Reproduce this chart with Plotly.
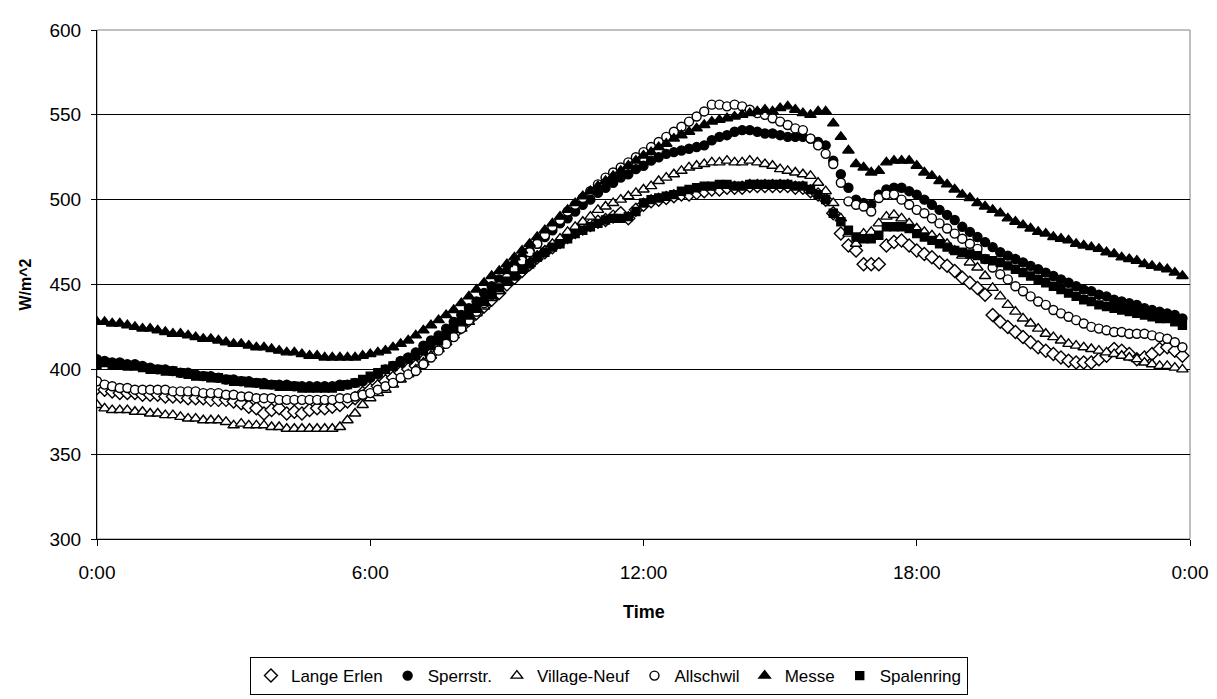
import plotly.graph_objects as go

# ---- data (10-minute values, 0:00 .. 23:50) ----
tick_vals = [0, 6, 12, 18, 24]
tick_text = ["0:00", "6:00", "12:00", "18:00", "0:00"]

lange_erlen = [
    389, 388, 387, 386, 386, 386, 385, 385, 385, 384, 384, 384,
    383, 383, 383, 382, 382, 382, 381, 380, 378, 377, 374, 376,
    377, 374, 375, 374, 376, 377, 377, 378, 379, 381, 383, 386,
    388, 390, 393, 395, 398, 400, 402, 405, 409, 413, 417, 421,
    425, 429, 433, 437, 441, 445, 450, 454, 458, 462, 466, 469,
    472, 475, 478, 481, 483, 485, 487, 488, 490, 492, 489, 494,
    497, 499, 500, 501, 502, 503, 503, 504, 505, 506, 506, 507,
    507, 507, 508, 508, 508, 508, 508, 508, 507, 507, 505, 503,
    500, 492, 480, 473, 470, 462, 462, 462, 473, 475, 476, 473,
    470, 468, 466, 463, 461, 458, 454, 451, 448, 444, 432, 428,
    425, 422, 419, 416, 413, 411, 409, 407, 405, 404, 404, 404,
    406, 408, 412, 411, 409, 406, 407, 409, 412, 413, 411, 408,
]
sperrstr = [
    406, 405, 404, 404, 403, 403, 402, 401, 400, 400, 399, 398,
    398, 397, 396, 396, 395, 394, 394, 393, 393, 392, 392, 391,
    391, 391, 390, 390, 390, 390, 390, 390, 391, 391, 392, 393,
    395, 397, 400, 402, 405, 407, 410, 414, 417, 420, 424, 428,
    432, 436, 440, 445, 449, 453, 458, 462, 466, 470, 474, 478,
    482, 486, 489, 493, 497, 500, 504, 507, 510, 513, 515, 518,
    520, 523, 525, 527, 528, 529, 530, 531, 532, 535, 537, 538,
    540, 541, 541, 540, 539, 539, 538, 537, 537, 537, 536, 534,
    532, 523, 515, 507, 500, 498, 497, 503, 506, 507, 507, 505,
    503, 500, 497, 494, 491, 488, 484, 481, 478, 475, 472, 469,
    467, 465, 463, 461, 459, 457, 455, 453, 451, 449, 447, 446,
    444, 443, 441, 440, 439, 438, 436, 435, 434, 433, 432, 430,
]
village_neuf = [
    379, 377, 376, 376, 376, 375, 375, 374, 374, 373, 373, 372,
    371, 371, 370, 370, 370, 369, 367, 368, 367, 367, 367, 366,
    366, 365, 365, 365, 365, 365, 365, 365, 366, 370, 374, 379,
    383, 386, 388, 391, 394, 397, 400, 404, 408, 412, 416, 420,
    424, 428, 433, 437, 442, 446, 451, 455, 459, 462, 466, 470,
    474, 477, 481, 484, 487, 490, 494, 496, 498, 500, 502, 504,
    506, 508, 511, 513, 515, 517, 519, 520, 521, 522, 522, 523,
    522, 522, 523, 522, 521, 520, 518, 517, 516, 515, 514, 510,
    505, 498, 489, 480, 474, 480, 481, 486, 490, 491, 489, 486,
    483, 481, 479, 477, 474, 470, 467, 463, 460, 455, 448, 443,
    438, 434, 430, 427, 424, 421, 419, 417, 415, 414, 413, 412,
    411, 410, 409, 408, 407, 406, 404, 403, 402, 402, 401, 400,
]
allschwil = [
    393, 391, 390, 389, 389, 388, 388, 388, 388, 388, 387, 387,
    387, 387, 386, 386, 386, 385, 385, 384, 384, 383, 383, 383,
    382, 382, 382, 382, 382, 382, 382, 382, 383, 383, 384, 385,
    386, 388, 390, 392, 395, 397, 399, 403, 407, 411, 415, 419,
    424, 429, 434, 439, 444, 449, 454, 459, 464, 469, 474, 479,
    484, 488, 493, 497, 501, 505, 509, 513, 516, 519, 522, 525,
    528, 531, 534, 537, 540, 543, 546, 549, 552, 556, 556, 555,
    556, 555, 553, 551, 550, 548, 546, 544, 542, 541, 536, 532,
    527, 521, 510, 499, 497, 496, 493, 501, 503, 503, 500, 497,
    494, 492, 489, 486, 483, 480, 477, 474, 471, 465, 460, 456,
    453, 449, 446, 443, 440, 438, 435, 433, 431, 429, 427, 425,
    424, 423, 422, 422, 421, 421, 421, 420, 419, 418, 416, 413,
]
messe = [
    428, 428, 427, 427, 426, 425, 424, 424, 423, 422, 421, 421,
    420, 419, 418, 418, 417, 416, 415, 415, 414, 413, 413, 412,
    411, 410, 410, 409, 408, 408, 407, 407, 407, 407, 407, 408,
    409, 410, 411, 413, 415, 417, 420, 423, 426, 429, 432, 435,
    439, 443, 447, 451, 455, 458, 462, 466, 470, 474, 478, 482,
    486, 490, 494, 498, 502, 505, 508, 511, 514, 517, 520, 523,
    526, 528, 531, 533, 536, 538, 540, 542, 544, 546, 547, 548,
    549, 550, 551, 552, 553, 552, 554, 555, 553, 551, 550, 552,
    552, 545, 537, 529, 521, 519, 516, 517, 522, 523, 523, 523,
    520, 516, 514, 511, 509, 506, 503, 501, 498, 496, 494, 492,
    489, 487, 485, 483, 481, 480, 478, 477, 476, 474, 473, 472,
    471, 469, 468, 466, 465, 464, 462, 461, 460, 459, 457, 455,
]
spalenring = [
    403, 404, 403, 403, 402, 402, 401, 400, 400, 399, 399, 398,
    397, 396, 396, 395, 395, 394, 393, 393, 392, 392, 391, 391,
    390, 390, 390, 389, 389, 389, 389, 389, 390, 391, 392, 394,
    396, 398, 400, 402, 404, 406, 408, 411, 414, 417, 420, 424,
    428, 432, 436, 440, 444, 448, 452, 455, 459, 462, 466, 469,
    472, 474, 477, 480, 482, 484, 486, 488, 489, 489, 490, 493,
    498, 500, 501, 502, 503, 505, 506, 507, 508, 508, 509, 509,
    508, 508, 509, 509, 509, 509, 509, 509, 508, 508, 506, 503,
    500, 492, 487, 482, 478, 477, 477, 479, 484, 484, 484, 483,
    480, 478, 476, 474, 472, 470, 469, 468, 467, 465, 464, 463,
    461, 459, 457, 455, 453, 451, 449, 447, 445, 443, 441, 440,
    438, 437, 436, 435, 434, 433, 432, 431, 430, 430, 428, 426,
]

times = [i / 6 for i in range(len(messe))]

series = [
    ("Lange Erlen", lange_erlen, "diamond", "white", 10),
    ("Sperrstr.", sperrstr, "circle", "black", 9),
    ("Village-Neuf", village_neuf, "triangle-up", "white", 10),
    ("Allschwil", allschwil, "circle", "white", 9),
    ("Messe", messe, "triangle-up", "black", 10),
    ("Spalenring", spalenring, "square", "black", 8),
]

FONT = "Liberation Sans, Arial, sans-serif"
fig = go.Figure()
for name, vals, sym, fill, size in series:
    fig.add_trace(go.Scatter(
        x=times, y=vals, name=name, mode="markers",
        marker=dict(symbol=sym, color=fill, size=size,
                    line=dict(color="black", width=1.4)),
    ))

fig.update_layout(
    width=1217, height=699,
    paper_bgcolor="white", plot_bgcolor="white",
    margin=dict(l=89, r=35, t=12, b=168),
    font=dict(family=FONT, size=19, color="black"),
    showlegend=True,
    legend=dict(
        orientation="h", xref="container", yref="container",
        x=0.4938, xanchor="center", y=0.0443, yanchor="middle",
        bordercolor="black", borderwidth=1, bgcolor="white",
        font=dict(family=FONT, size=17), itemwidth=30,
        tracegroupgap=0,
    ),
    xaxis=dict(
        range=[0, 24], tickvals=tick_vals, ticktext=tick_text,
        showgrid=False, zeroline=False,
        showline=True, linecolor="black", linewidth=1,
        ticks="outside", ticklen=6, tickcolor="black",
        ticklabelstandoff=10,
        tickfont=dict(family=FONT, size=19),
    ),
    yaxis=dict(
        range=[300, 600], dtick=50,
        showgrid=True, gridcolor="black", gridwidth=1,
        zeroline=False,
        showline=True, linecolor="black", linewidth=1,
        ticks="outside", ticklen=5, tickcolor="black",
        ticklabelstandoff=6,
        tickfont=dict(family=FONT, size=19),
    ),
    shapes=[dict(type="rect", xref="paper", yref="paper", x0=0, x1=1, y0=0, y1=1,
                 line=dict(color="#808080", width=1), layer="below")],
    annotations=[
        dict(text="<b>Time</b>", xref="paper", yref="paper", x=0.5, y=0,
             yshift=-73, showarrow=False, yanchor="middle",
             font=dict(family=FONT, size=18)),
        dict(text="<b>W/m^2</b>", xref="paper", yref="paper", x=0, y=0.5,
             xshift=-72, showarrow=False, textangle=-90, xanchor="center",
             font=dict(family=FONT, size=16)),
    ],
)

fig.write_html("out.html")
